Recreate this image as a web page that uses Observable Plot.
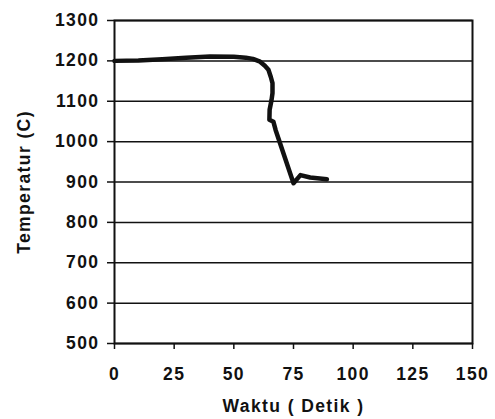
<!DOCTYPE html>
<html>
<head>
<meta charset="utf-8">
<script src="https://cdn.jsdelivr.net/npm/d3@7"></script>
<script src="https://cdn.jsdelivr.net/npm/@observablehq/plot@0.6"></script>
<style>
  html, body { margin: 0; padding: 0; background: #fff; }
</style>
</head>
<body>
<div id="chart"></div>
<script>
const times = [0, 10, 20, 30, 40, 50, 55, 58, 61, 63, 64.5, 65.5, 66.2, 66.2, 65.8, 65, 64.9, 66.6, 67.5, 75, 77.9, 82, 89];
const temps = [1200, 1201, 1204, 1208, 1211, 1210, 1208, 1205, 1198, 1188, 1178, 1160, 1145, 1120, 1103, 1079, 1054, 1049, 1029, 897, 917, 911, 907];
const xTicks = [0, 25, 50, 75, 100, 125, 150];
const yTicks = [500, 600, 700, 800, 900, 1000, 1100, 1200, 1300];

const data = times.map((t, i) => ({t, temp: temps[i]}));

const chart = Plot.plot({
  width: 495,
  height: 419,
  marginLeft: 114,
  marginRight: 23,
  marginTop: 20,
  marginBottom: 76,
  style: {fontFamily: "'Liberation Sans', Arial, sans-serif", fontSize: "18px", fontWeight: "bold", letterSpacing: "1.4px", color: "#111", background: "#fff"},
  x: {domain: [0, 150]},
  y: {domain: [500, 1300]},
  marks: [
    Plot.gridY(yTicks, {stroke: "#111", strokeOpacity: 1, strokeWidth: 1.5}),
    Plot.frame({stroke: "#111", strokeWidth: 2}),
    Plot.axisY({ticks: yTicks, tickFormat: d => String(d), tickSize: 7, tickPadding: 8, stroke: "#111", strokeWidth: 1.5,
      label: "Temperatur (C)", labelAnchor: "center", labelArrow: "none", labelOffset: 97, fontSize: 17.5}),
    Plot.axisX({ticks: xTicks, tickFormat: d => String(d), tickSize: 6, tickPadding: 18, stroke: "#111", strokeWidth: 1.5,
      label: "Waktu ( Detik )", labelAnchor: "center", labelArrow: "none", labelOffset: 68, fontSize: 17.5}),
    Plot.line(data, {x: "t", y: "temp", stroke: "#111", strokeWidth: 4.5, strokeLinejoin: "round", strokeLinecap: "round"})
  ]
});
document.getElementById("chart").appendChild(chart);
</script>
</body>
</html>
